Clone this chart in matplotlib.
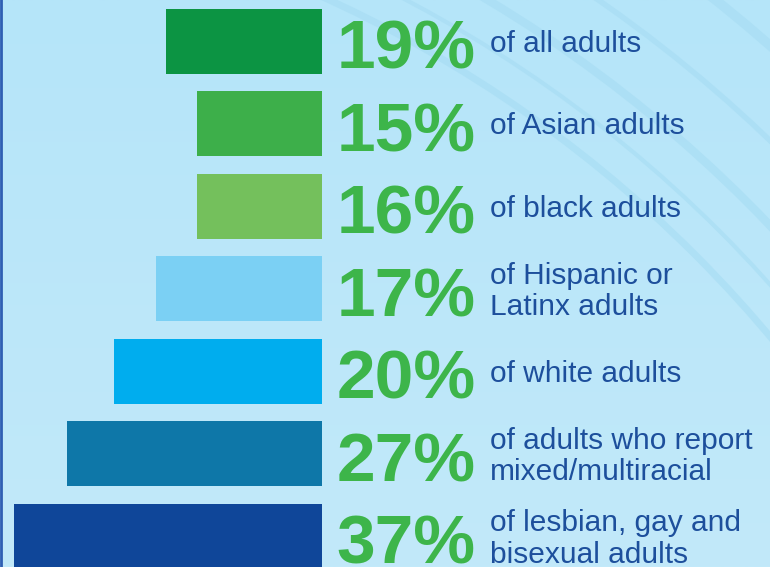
import matplotlib
matplotlib.use("Agg")
import matplotlib.pyplot as plt
import numpy as np
from matplotlib.patches import Arc
from matplotlib.colors import LinearSegmentedColormap

# ---- data ----
percent_values = [19, 15, 16, 17, 20, 27, 37]
descriptions = [
    "of all adults",
    "of Asian adults",
    "of black adults",
    "of Hispanic or\nLatinx adults",
    "of white adults",
    "of adults who report\nmixed/multiracial",
    "of lesbian, gay and\nbisexual adults",
]
# displayed bar lengths as drawn in the infographic (not linear in percent)
bar_lengths = [15.6, 12.5, 12.5, 16.6, 20.8, 25.5, 30.8]
bar_colors = ["#0c9443", "#3daf4a", "#74c05c", "#7bd0f4", "#00adee", "#0e77a8", "#0f4699"]

GREEN = "#3db54a"
TEXT_BLUE = "#1d4f9c"
BG = "#b8e6f9"

W, H = 770, 567
fig = plt.figure(figsize=(W / 100, H / 100), dpi=100)
fig.patch.set_facecolor(BG)

# background decoration axis (pixel space)
bg = fig.add_axes([0, 0, 1, 1], zorder=0)
bg.set_xlim(0, W)
bg.set_ylim(H, 0)
bg.axis("off")
grad = np.linspace(0, 1, 256).reshape(-1, 1)
cmap = LinearSegmentedColormap.from_list("bgc", ["#b5e5f9", "#c2e9fa"])
bg.imshow(grad, extent=[0, W, H, 0], cmap=cmap, aspect="auto", zorder=0)
cx, cy = -200, 1150
for r, lw in [(1266, 5), (1300, 3), (1340, 6), (1400, 4), (1470, 7), (1540, 5)]:
    bg.add_patch(Arc((cx, cy), 2 * r, 2 * r, theta1=0, theta2=360,
                     color="#a6dcf3", lw=lw, alpha=0.6, zorder=1))
bg.axvline(1, color="#2f5fb3", lw=2, zorder=2)

# main axis
ax = fig.add_axes([0, 0, 1, 1], zorder=1)
ax.patch.set_alpha(0)
y = np.arange(len(percent_values))
ax.barh(y, [-b for b in bar_lengths], height=65 / 82.5, color=bar_colors, left=0)
ax.set_xlim(-32.2, 44.8)
ax.set_ylim(-0.503 + H / 82.5, -0.503)
ax.axis("off")

for i, (v, d) in enumerate(zip(percent_values, descriptions)):
    ax.text(15.4, i + 0.33, f"{v}%", ha="right", va="baseline",
            fontsize=50, fontweight="bold", color=GREEN,
            family="Liberation Sans")
    ax.text(16.8, i + 0.03, d, ha="left", va="center", fontsize=21.5,
            color=TEXT_BLUE, family="Liberation Sans", linespacing=1.15)

fig.savefig("out.png", dpi=100, facecolor=BG)
